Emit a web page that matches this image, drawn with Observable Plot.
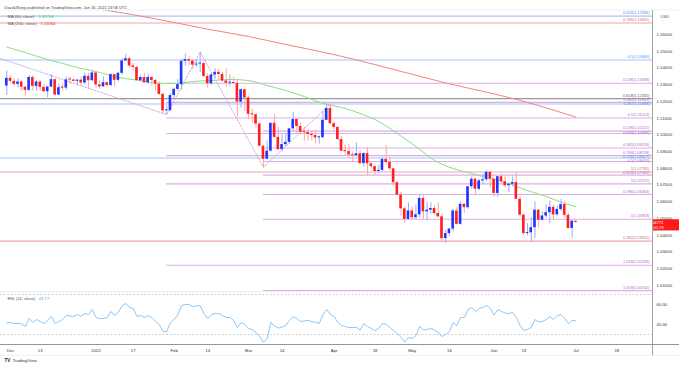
<!DOCTYPE html>
<html><head><meta charset="utf-8">
<script src="https://cdn.jsdelivr.net/npm/d3@7"></script>
<script src="https://cdn.jsdelivr.net/npm/@observablehq/plot@0.6"></script>
<style>
body{margin:0;background:#fff;}
#wrap{position:relative;width:679px;height:368px;overflow:hidden;background:#fff;}
#wrap svg{position:absolute;left:0;overflow:visible;background:transparent;}
</style></head><body><div id="wrap"></div>
<script>
// ---------- DATA (EUR/USD daily, O H L C) ----------
const nov2021 = [[1.1292,1.1383,1.1235,1.1338]];
const dec2021 = [
[1.1338,1.1352,1.1306,1.1320],[1.1320,1.1334,1.1292,1.1302],[1.1302,1.1336,1.1281,1.1316],
[1.1316,1.1322,1.1264,1.1285],[1.1285,1.1290,1.1227,1.1266],[1.1266,1.1355,1.1262,1.1343],
[1.1343,1.1353,1.1262,1.1290],[1.1290,1.1325,1.1263,1.1316],[1.1316,1.1323,1.1260,1.1284],
[1.1284,1.1302,1.1253,1.1258],[1.1258,1.1290,1.1222,1.1286],[1.1286,1.1360,1.1282,1.1330],
[1.1330,1.1333,1.1234,1.1238],[1.1238,1.1304,1.1235,1.1282],[1.1282,1.1304,1.1260,1.1280],
[1.1280,1.1345,1.1266,1.1329],[1.1329,1.1343,1.1300,1.1328],[1.1328,1.1333,1.1316,1.1320],
[1.1320,1.1333,1.1294,1.1327],[1.1327,1.1346,1.1293,1.1310],[1.1310,1.1369,1.1300,1.1350],
[1.1350,1.1368,1.1275,1.1324],[1.1324,1.1386,1.1318,1.1370]];
const jan2022 = [
[1.1370,1.1376,1.1280,1.1299],[1.1299,1.1322,1.1272,1.1287],[1.1287,1.1346,1.1286,1.1312],
[1.1312,1.1316,1.1285,1.1295],[1.1295,1.1364,1.1290,1.1360],[1.1360,1.1363,1.1286,1.1326],
[1.1326,1.1375,1.1314,1.1368],[1.1368,1.1454,1.1357,1.1442],[1.1442,1.1482,1.1438,1.1455],
[1.1455,1.1463,1.1398,1.1412],[1.1412,1.1428,1.1385,1.1403],[1.1403,1.1409,1.1321,1.1324],
[1.1324,1.1357,1.1315,1.1343],[1.1343,1.1369,1.1310,1.1311],[1.1311,1.1363,1.1300,1.1343],
[1.1343,1.1349,1.1290,1.1325],[1.1325,1.1331,1.1264,1.1303],[1.1303,1.1317,1.1234,1.1242],
[1.1242,1.1249,1.1122,1.1144],[1.1144,1.1174,1.1121,1.1145],[1.1145,1.1247,1.1140,1.1235]];
const feb2022 = [
[1.1235,1.1280,1.1218,1.1272],[1.1272,1.1330,1.1262,1.1300],[1.1300,1.1450,1.1267,1.1440],
[1.1440,1.1483,1.1410,1.1450],[1.1450,1.1468,1.1413,1.1441],[1.1441,1.1449,1.1390,1.1417],
[1.1417,1.1446,1.1403,1.1423],[1.1423,1.1495,1.1373,1.1426],[1.1426,1.1434,1.1340,1.1349],
[1.1349,1.1367,1.1280,1.1306],[1.1306,1.1369,1.1296,1.1358],[1.1358,1.1395,1.1335,1.1374],
[1.1374,1.1393,1.1328,1.1361],[1.1361,1.1375,1.1315,1.1322],[1.1322,1.1395,1.1286,1.1309],
[1.1309,1.1358,1.1290,1.1309],[1.1309,1.1344,1.1304,1.1307],[1.1307,1.1324,1.1106,1.1196],
[1.1196,1.1274,1.1160,1.1270],[1.1270,1.1270,1.1140,1.1220]];
const mar2022 = [
[1.1220,1.1233,1.1090,1.1123],[1.1123,1.1153,1.1070,1.1120],[1.1120,1.1125,1.1040,1.1065],
[1.1065,1.1070,1.0930,1.0932],[1.0932,1.0933,1.0806,1.0855],[1.0855,1.0963,1.0850,1.0903],
[1.0903,1.1071,1.0896,1.1069],[1.1069,1.1121,1.0979,1.0985],[1.0985,1.1043,1.0906,1.0912],
[1.0912,1.0999,1.0900,1.0942],[1.0942,1.1005,1.0929,1.0955],[1.0955,1.1037,1.0945,1.1036],
[1.1036,1.1137,1.1020,1.1092],[1.1092,1.1097,1.1003,1.1050],[1.1050,1.1070,1.1000,1.1016],
[1.1016,1.1045,1.0962,1.1014],[1.1014,1.1035,1.0964,1.1003],[1.1003,1.1024,1.0964,1.0996],
[1.0996,1.1028,1.0945,1.0982],[1.0982,1.0992,1.0945,1.0983],[1.0983,1.1138,1.0978,1.1087],
[1.1087,1.1185,1.1085,1.1158],[1.1158,1.1184,1.1060,1.1067]];
const apr2022 = [
[1.1067,1.1077,1.1027,1.1044],[1.1044,1.1050,1.0969,1.0972],[1.0972,1.0991,1.0900,1.0903],
[1.0903,1.0937,1.0878,1.0900],[1.0900,1.0944,1.0860,1.0880],[1.0880,1.0900,1.0838,1.0875],
[1.0875,1.0953,1.0873,1.0887],[1.0887,1.0904,1.0823,1.0828],[1.0828,1.0893,1.0808,1.0888],
[1.0888,1.0924,1.0757,1.0827],[1.0827,1.0838,1.0800,1.0810],[1.0810,1.0815,1.0760,1.0781],
[1.0781,1.0818,1.0770,1.0788],[1.0788,1.0863,1.0779,1.0853],[1.0853,1.0936,1.0822,1.0835],
[1.0835,1.0866,1.0782,1.0797],[1.0797,1.0800,1.0697,1.0714],[1.0714,1.0720,1.0636,1.0640],
[1.0640,1.0656,1.0514,1.0558],[1.0558,1.0570,1.0471,1.0495],[1.0495,1.0593,1.0490,1.0545]];
const may2022 = [
[1.0545,1.0570,1.0490,1.0505],[1.0505,1.0580,1.0493,1.0522],[1.0522,1.0640,1.0505,1.0620],
[1.0620,1.0642,1.0493,1.0540],[1.0540,1.0600,1.0485,1.0550],[1.0550,1.0594,1.0523,1.0560],
[1.0560,1.0576,1.0520,1.0530],[1.0530,1.0593,1.0505,1.0510],[1.0510,1.0525,1.0354,1.0380],
[1.0380,1.0428,1.0350,1.0410],[1.0410,1.0440,1.0390,1.0437],[1.0437,1.0555,1.0420,1.0545],
[1.0545,1.0565,1.0460,1.0465],[1.0465,1.0600,1.0460,1.0585],[1.0585,1.0590,1.0530,1.0565],
[1.0565,1.0690,1.0555,1.0690],[1.0690,1.0748,1.0673,1.0735],[1.0735,1.0740,1.0645,1.0675],
[1.0675,1.0735,1.0665,1.0725],[1.0725,1.0765,1.0698,1.0732],[1.0732,1.0787,1.0720,1.0776],
[1.0776,1.0780,1.0683,1.0735]];
const jun2022 = [
[1.0735,1.0736,1.0627,1.0650],[1.0650,1.0750,1.0630,1.0750],[1.0750,1.0765,1.0710,1.0720],
[1.0720,1.0750,1.0680,1.0696],[1.0696,1.0710,1.0655,1.0705],[1.0705,1.0748,1.0690,1.0715],
[1.0715,1.0774,1.0615,1.0615],[1.0615,1.0630,1.0508,1.0520],[1.0520,1.0530,1.0398,1.0410],
[1.0410,1.0470,1.0397,1.0415],[1.0415,1.0506,1.0359,1.0445],[1.0445,1.0601,1.0380,1.0550],
[1.0550,1.0550,1.0443,1.0490],[1.0490,1.0540,1.0484,1.0515],[1.0515,1.0582,1.0502,1.0535],
[1.0535,1.0605,1.0468,1.0567],[1.0567,1.0580,1.0488,1.0522],[1.0522,1.0574,1.0515,1.0554],
[1.0554,1.0615,1.0541,1.0583],[1.0583,1.0605,1.0505,1.0519],[1.0519,1.0533,1.0437,1.0441],
[1.0441,1.0487,1.0382,1.0484]];
const jul2022 = [[1.0484,1.0486,1.0473,1.04772]];

// RSI(14) per bar (Nov 30 .. Jul 1)
const rsi14 = [41.5,42,41,41,40.5,38,46,42,45,43,41,44,48,41,43,45,49,48.5,48,50,
48,51,50,55,47,46,46,47,53,49,52,59,61,57,56,48,49,47,49,47,
43,40,33,33,42,45,50,59,60,60,58,58.5,59,51,46,50,51,51,49,47,
47,44,37,42,40,36,35,32,28,22,26,42,38.5,36.5,37.5,39,44,48,46,43,
43.5,44,43,42,41,50,55,50,48,42,39,38,37,37,37,34.5,41,38,36,34,
36,41,40,37,34,31,27,22.5,27,26,29,38,34.5,35,36,34.5,32,28,30,33,
42,39,47,47,55,57,53,56,57,59,56,49.5,55,53,51.5,51,52,47,39,34,
35,37,45,42.5,43,45,48,45,49,50,46,41,44,43.77];

// Moving averages
const ma50Pts = [["2021-11-30",1.1525],["2021-12-07",1.1492],["2021-12-14",1.1457],["2021-12-21",1.1427],
["2021-12-28",1.1397],["2022-01-04",1.1373],["2022-01-11",1.1343],["2022-01-18",1.1328],["2022-01-25",1.1310],
["2022-02-01",1.1307],["2022-02-08",1.1319],["2022-02-15",1.1325],["2022-02-22",1.1331],["2022-03-01",1.1325],
["2022-03-08",1.1295],["2022-03-15",1.1265],["2022-03-22",1.1229],["2022-03-29",1.1188],["2022-04-05",1.1164],
["2022-04-12",1.1128],["2022-04-19",1.1080],["2022-04-26",1.1008],["2022-05-03",1.0931],["2022-05-10",1.0847],
["2022-05-17",1.0799],["2022-05-24",1.0769],["2022-05-31",1.0739],["2022-06-07",1.0709],["2022-06-14",1.0667],
["2022-06-21",1.0632],["2022-06-28",1.0590],["2022-07-01",1.05704]];
const ma200Pts = [["2021-12-01",1.1838],["2021-12-15",1.1800],["2022-01-03",1.1755],["2022-01-17",1.1718],
["2022-02-01",1.1672],["2022-02-14",1.1632],["2022-03-01",1.1588],["2022-03-14",1.1545],["2022-04-01",1.1480],
["2022-04-18",1.1420],["2022-05-02",1.1362],["2022-05-16",1.1305],["2022-06-01",1.1245],["2022-06-13",1.1200],
["2022-07-01",1.11064]];

// Fibonacci levels [ratio, price]
const fibBlue = [[0.618,1.17096],[0.5,1.14480],[0.382,1.11848],[0.236,1.08617]];
const fibSalmon = [[0.786,1.16691],[1,1.07785],[0.382,1.03650]];
const fibGray = [[0.618,1.12165]];
const fibExt1 = [[0.236,1.13089],[0.382,1.11942],[0.5,1.11013],[0.618,1.10084],[0.786,1.08758],[1,1.07072],[1.618,1.02209]];
const fibExt1Start = "2022-01-28";
const fibExt2 = [[0.236,1.10222],[0.382,1.09216],[0.5,1.08405],[0.618,1.07592],[0.786,1.06433],[1,1.04959],[1.618,1.00702]];
const fibExt2Start = "2022-03-07";
const zig1 = [["2021-09-03",1.19087],["2022-01-28",1.11212],["2022-02-10",1.14951]];
const zig2 = [["2022-02-10",1.14951],["2022-03-07",1.08059],["2022-03-31",1.11851]];

const priceTicks = [1.01,1.02,1.03,1.04,1.05,1.06,1.07,1.08,1.09,1.10,1.11,1.12,1.13,1.14,1.15,1.16];
const rsiTicks = [40,60];
const timeTickDates = ["2021-12-01","2021-12-13","2022-01-03","2022-01-17","2022-02-01","2022-02-14","2022-03-01","2022-03-14",
"2022-04-01","2022-04-18","2022-05-02","2022-05-16","2022-06-01","2022-06-13","2022-07-01","2022-07-18"];
const timeTickLabels = ["Dec","13","2022","17","Feb","14","Mar","14","Apr","18","May","16","Jun","13","Jul","18"];
const lastPrice = 1.04772, lastMA50 = "1.05704", lastMA200 = "1.11064", lastRSI = "43.77";

// ---------- helpers ----------
const DAY = 864e5, base = Date.UTC(2021,10,30);
function tIndex(s){
  const d = Date.parse(s+"T00:00:00Z"); let n = 0;
  if (d >= base) { for (let t = base+DAY; t <= d; t += DAY) { const w = new Date(t).getUTCDay(); if (w>0 && w<6) n++; } }
  else { for (let t = d; t < base; t += DAY) { const w = new Date(t).getUTCDay(); if (w>0 && w<6) n--; } }
  return n;
}
const rows = [...nov2021,...dec2021,...jan2022,...feb2022,...mar2022,...apr2022,...may2022,...jun2022,...jul2022];
const bars = rows.map((r,i)=>({i, o:r[0], h:r[1], l:r[2], c:r[3], up:r[3]>=r[0]}));
const rsiData = rsi14.map((v,i)=>({i, v}));
const pts = a => a.map(([d,p])=>({i:tIndex(d), p}));

const xDomain = [-1.69, 173.6];
const yDomain = [1.00578, 1.17435];
const pxPrice = (yDomain[1]-yDomain[0]) / 282;  // price units per pixel of the main pane
const FONT = "Liberation Sans, Arial, sans-serif";
const UP = "#1f35ff", DN = "#ff1f1f", UPW = "#9aabff", DNW = "#ffa3a3";
const levels = [];
const add = (arr, kind, start) => arr.forEach(([r,p]) => levels.push({r, p, kind, x1: start==null ? xDomain[0] : tIndex(start), label: `${r}(${p.toFixed(5)})`}));
add(fibBlue,"blue"); add(fibSalmon,"salmon"); add(fibGray,"gray");
add(fibExt1,"purple",fibExt1Start); add(fibExt2,"purple",fibExt2Start);
// label placement: ~3px above its line, nudged down so labels don't collide
const sortedLv = levels.slice().sort((a,b)=>b.p-a.p);
let prevLp = Infinity;
for (const d of sortedLv) { let lp = d.p + 3*pxPrice; if (lp > prevLp - 4.1*pxPrice) lp = prevLp - 4.1*pxPrice; d.lp = lp; prevLp = lp; }
const lineCol = {blue:"#a8c6f4", salmon:"#f2a6a6", gray:"#9a9a9a", purple:"#dcaee6"};
const textCol = {blue:"#4e8ff0", salmon:"#d46a6a", gray:"#555", purple:"#b064c6"};

const wrap = document.getElementById("wrap");

// ---------- main price pane ----------
const main = Plot.plot({
  width: 679, height: 292, marginTop: 10, marginBottom: 0, marginLeft: 0, marginRight: 27,
  style: {fontFamily: FONT, fontSize: "4.3px", color: "#333", background: "transparent"},
  x: {domain: xDomain, axis: null},
  y: {domain: yDomain, axis: "right", ticks: priceTicks, tickFormat: d3.format(".5f"), tickSize: 0, tickPadding: 4, label: null},
  marks: [
    Plot.ruleY(levels, {y: "p", x1: "x1", x2: xDomain[1], stroke: d => lineCol[d.kind], strokeWidth: d => d.kind==="gray" ? 1.4 : 1.1}),
    Plot.line(pts(zig1), {x: "i", y: "p", stroke: "#c9a0d8", strokeWidth: 0.9, strokeDasharray: "1.6,1.6", clip: true}),
    Plot.line(pts(zig2), {x: "i", y: "p", stroke: "#c9a0d8", strokeWidth: 0.9, strokeDasharray: "1.6,1.6", clip: true}),
    Plot.line(pts(ma200Pts), {x: "i", y: "p", stroke: "#f4837f", strokeWidth: 1, curve: "monotone-x", clip: true}),
    Plot.line(pts(ma50Pts), {x: "i", y: "p", stroke: "#86e07e", strokeWidth: 1, curve: "monotone-x", clip: true}),
    Plot.ruleX(bars, {x: "i", y1: "l", y2: "h", stroke: d => d.up ? UPW : DNW, strokeWidth: 1}),
    Plot.rect(bars, {x1: d => d.i - 0.35, x2: d => d.i + 0.35,
      y1: d => Math.min(d.o, d.c), y2: d => Math.max(Math.max(d.o, d.c), Math.min(d.o, d.c) + 0.0006),
      fill: d => d.up ? UP : DN}),
    Plot.text(levels, {y: "lp", frameAnchor: "right", text: "label", textAnchor: "end", dx: -3, fill: d => textCol[d.kind], fontSize: 3.9}),
    Plot.text(["DavidJSong published on TradingView.com, Jun 30, 2022 23:58 UTC"], {frameAnchor: "top-left", dx: 4, dy: -4, textAnchor: "start", fill: "#444", fontSize: 4.0}),
    Plot.text(["MA (50, close)"], {frameAnchor: "top-left", dx: 7, dy: 5, textAnchor: "start", fill: "#555", fontSize: 4.2}),
    Plot.text([lastMA50], {frameAnchor: "top-left", dx: 38, dy: 5, textAnchor: "start", fill: "#3ccc3c", fontSize: 4.2}),
    Plot.text(["MA (200, close)"], {frameAnchor: "top-left", dx: 7, dy: 12, textAnchor: "start", fill: "#555", fontSize: 4.2}),
    Plot.text([lastMA200], {frameAnchor: "top-left", dx: 40, dy: 12, textAnchor: "start", fill: "#f03030", fontSize: 4.2}),
    Plot.text(["USD"], {frameAnchor: "top-right", dx: 8, dy: 5, textAnchor: "start", fill: "#555", fontSize: 4.2})
  ]
});
main.style.top = "0px";
wrap.appendChild(main);

// last price tag via the plot's own y scale
const ys = main.scale("y");
const py = ys.apply(lastPrice);
const g = d3.select(main).append("g");
g.append("rect").attr("x", 653).attr("y", py - 2.6).attr("width", 26).attr("height", 11.2).attr("fill", "#ff1a1a");
g.append("text").attr("x", 656).attr("y", py + 1.0).attr("dy", "0.35em").attr("fill", "#fff").attr("font-size", 4.1).attr("font-family", FONT).text(lastPrice.toFixed(5));
g.append("text").attr("x", 656).attr("y", py + 5.6).attr("dy", "0.35em").attr("fill", "#fff").attr("font-size", 3.9).attr("font-family", FONT).text("21:01:29");

// ---------- RSI pane ----------
const tickIdx = timeTickDates.map(tIndex);
const tickMap = new Map(tickIdx.map((v,k)=>[v, timeTickLabels[k]]));
const rsiPlot = Plot.plot({
  width: 679, height: 76, marginTop: 0, marginBottom: 24, marginLeft: 0, marginRight: 27,
  style: {fontFamily: FONT, fontSize: "4.3px", color: "#333", background: "transparent"},
  x: {domain: xDomain, ticks: tickIdx, tickFormat: d => tickMap.get(d), tickSize: 0, tickPadding: 4, label: null},
  y: {domain: [20, 72], axis: "right", ticks: rsiTicks, tickFormat: d3.format(".2f"), tickSize: 0, tickPadding: 4, label: null},
  marks: [
    Plot.ruleY([70, 30], {stroke: "#b8b8b8", strokeWidth: 0.8, strokeDasharray: "1.5,2.2"}),
    Plot.line(rsiData, {x: "i", y: "v", stroke: "#8cc6f7", strokeWidth: 1}),
    Plot.text(["RSI (14, close)"], {frameAnchor: "top-left", dx: 7, dy: 5, textAnchor: "start", fill: "#555", fontSize: 4.2}),
    Plot.text([lastRSI], {frameAnchor: "top-left", dx: 38, dy: 5, textAnchor: "start", fill: "#4ea6ef", fontSize: 4.2}),
    Plot.text(["TV"], {frameAnchor: "bottom-left", dx: 4, dy: 17, textAnchor: "start", fill: "#222", fontSize: 4.6, fontWeight: "bold"}),
    Plot.text(["TradingView"], {frameAnchor: "bottom-left", dx: 12, dy: 17, textAnchor: "start", fill: "#333", fontSize: 4.4})
  ]
});
rsiPlot.style.top = "292px";
wrap.appendChild(rsiPlot);

// ---------- pane chrome ----------
const chrome = d3.select(wrap).append("svg").attr("width", 679).attr("height", 368).style("top", "0px").style("pointer-events", "none");
chrome.append("line").attr("x1", 652.5).attr("x2", 652.5).attr("y1", 10).attr("y2", 355).attr("stroke", "#8a8a8a").attr("stroke-width", 0.8);
chrome.append("line").attr("x1", 0).attr("x2", 679).attr("y1", 344.5).attr("y2", 344.5).attr("stroke", "#8a8a8a").attr("stroke-width", 0.9);
chrome.append("line").attr("x1", 0).attr("x2", 652).attr("y1", 291.8).attr("y2", 291.8).attr("stroke", "#e6e6e6").attr("stroke-width", 0.8);
chrome.append("line").attr("x1", 3).attr("x2", 679).attr("y1", 10).attr("y2", 10).attr("stroke", "#ececec").attr("stroke-width", 0.8);
chrome.append("line").attr("x1", 0).attr("x2", 679).attr("y1", 355.5).attr("y2", 355.5).attr("stroke", "#ececec").attr("stroke-width", 0.8);
</script></body></html>
